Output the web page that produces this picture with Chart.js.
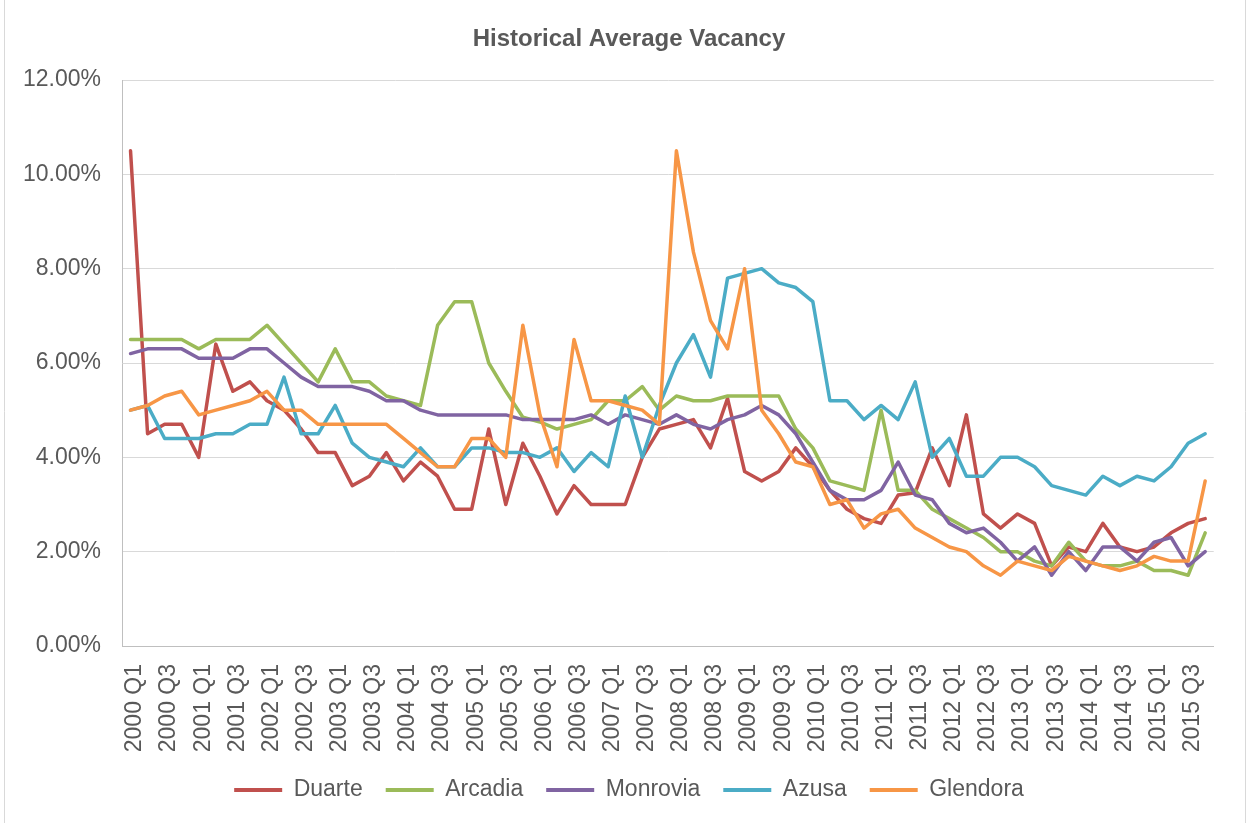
<!DOCTYPE html>
<html>
<head>
<meta charset="utf-8">
<script src="https://cdn.jsdelivr.net/npm/chart.js@4.4.1/dist/chart.umd.min.js"></script>
<style>
  html, body { margin: 0; padding: 0; background: #ffffff; }
  #wrap { position: relative; width: 1251px; height: 823px; }
  canvas { display: block; }
</style>
</head>
<body>
<div id="wrap"><canvas id="chart" width="1251" height="823"></canvas></div>
<script>
// ---- data (vacancy, %) ----
const years = [2000, 2001, 2002, 2003, 2004, 2005, 2006, 2007, 2008, 2009, 2010, 2011, 2012, 2013, 2014, 2015];
const quarters = ['Q1', 'Q2', 'Q3', 'Q4'];
const categories = years.flatMap(y => quarters.map(q => y + ' ' + q));

const seriesNames = ['Duarte', 'Arcadia', 'Monrovia', 'Azusa', 'Glendora'];

const duarte = [10.5, 4.5, 4.7, 4.7, 4.0, 6.4, 5.4, 5.6, 5.2, 5.0,
                4.6, 4.1, 4.1, 3.4, 3.6, 4.1, 3.5, 3.9, 3.6, 2.9,
                2.9, 4.6, 3.0, 4.3, 3.6, 2.8, 3.4, 3.0, 3.0, 3.0,
                4.0, 4.6, 4.7, 4.8, 4.2, 5.25, 3.7, 3.5, 3.7, 4.2,
                3.8, 3.3, 2.9, 2.7, 2.6, 3.2, 3.25, 4.2, 3.4, 4.9,
                2.8, 2.5, 2.8, 2.6, 1.7, 2.1, 2.0, 2.6, 2.1, 2.0,
                2.1, 2.4, 2.6, 2.7];

const arcadia = [6.5, 6.5, 6.5, 6.5, 6.3, 6.5, 6.5, 6.5, 6.8, 6.4,
                 6.0, 5.6, 6.3, 5.6, 5.6, 5.3, 5.2, 5.1, 6.8, 7.3,
                 7.3, 6.0, 5.4, 4.85, 4.75, 4.6, 4.7, 4.8, 5.2, 5.2,
                 5.5, 5.0, 5.3, 5.2, 5.2, 5.3, 5.3, 5.3, 5.3, 4.6,
                 4.2, 3.5, 3.4, 3.3, 5.0, 3.3, 3.3, 2.9, 2.7, 2.5,
                 2.3, 2.0, 2.0, 1.8, 1.7, 2.2, 1.8, 1.7, 1.7, 1.8,
                 1.6, 1.6, 1.5, 2.4];

const monrovia = [6.2, 6.3, 6.3, 6.3, 6.1, 6.1, 6.1, 6.3, 6.3, 6.0,
                  5.7, 5.5, 5.5, 5.5, 5.4, 5.2, 5.2, 5.0, 4.9, 4.9,
                  4.9, 4.9, 4.9, 4.8, 4.8, 4.8, 4.8, 4.9, 4.7, 4.9,
                  4.8, 4.7, 4.9, 4.7, 4.6, 4.8, 4.9, 5.1, 4.9, 4.5,
                  3.9, 3.3, 3.1, 3.1, 3.3, 3.9, 3.2, 3.1, 2.6, 2.4,
                  2.5, 2.2, 1.8, 2.1, 1.5, 2.0, 1.6, 2.1, 2.1, 1.8,
                  2.2, 2.3, 1.7, 2.0];

const azusa = [5.0, 5.1, 4.4, 4.4, 4.4, 4.5, 4.5, 4.7, 4.7, 5.7,
               4.5, 4.5, 5.1, 4.3, 4.0, 3.9, 3.8, 4.2, 3.8, 3.8,
               4.2, 4.2, 4.1, 4.1, 4.0, 4.2, 3.7, 4.1, 3.8, 5.3,
               4.0, 5.1, 6.0, 6.6, 5.7, 7.8, 7.9, 8.0, 7.7, 7.6,
               7.3, 5.2, 5.2, 4.8, 5.1, 4.8, 5.6, 4.0, 4.4, 3.6,
               3.6, 4.0, 4.0, 3.8, 3.4, 3.3, 3.2, 3.6, 3.4, 3.6,
               3.5, 3.8, 4.3, 4.5];

const glendora = [5.0, 5.1, 5.3, 5.4, 4.9, 5.0, 5.1, 5.2, 5.4, 5.0,
                  5.0, 4.7, 4.7, 4.7, 4.7, 4.7, 4.4, 4.1, 3.8, 3.8,
                  4.4, 4.4, 4.0, 6.8, 4.9, 3.8, 6.5, 5.2, 5.2, 5.1,
                  5.0, 4.7, 10.5, 8.35, 6.9, 6.3, 8.0, 5.0, 4.5, 3.9,
                  3.8, 3.0, 3.1, 2.5, 2.8, 2.9, 2.5, 2.3, 2.1, 2.0,
                  1.7, 1.5, 1.8, 1.7, 1.6, 1.9, 1.8, 1.7, 1.6, 1.7,
                  1.9, 1.8, 1.8, 3.5];

const yTicks = { min: 0, max: 12, step: 2 };
const seriesColors = ['#C0504D', '#9BBB59', '#8064A2', '#4BACC6', '#F79646'];

// ---- chart ----
const FONT = '"Liberation Sans", Arial, Helvetica, sans-serif';
const TEXT = '#595959';
const allSeries = [duarte, arcadia, monrovia, azusa, glendora];

const datasets = allSeries.map((vals, i) => ({
  label: seriesNames[i],
  data: vals,
  borderColor: seriesColors[i],
  backgroundColor: seriesColors[i],
  borderWidth: 3.5,
  pointRadius: 0,
  pointHoverRadius: 0,
  tension: 0,
  fill: false,
  order: allSeries.length - i,
  borderJoinStyle: 'round',
  borderCapStyle: 'round'
}));

const framePlugin = {
  id: 'frame',
  afterLayout(chart) {
    // let y tick labels extend left of the (narrow) scale box without clipping
    chart.scales.y.left = 0;
  },
  afterDraw(chart) {
    const ctx = chart.ctx;
    ctx.save();
    ctx.strokeStyle = '#D9D9D9';
    ctx.lineWidth = 1;
    ctx.beginPath();
    ctx.moveTo(4.5, 0); ctx.lineTo(4.5, 823);
    ctx.moveTo(1245.5, 0); ctx.lineTo(1245.5, 823);
    ctx.stroke();
    ctx.restore();
  }
};

new Chart(document.getElementById('chart'), {
  type: 'line',
  data: { labels: categories, datasets },
  plugins: [framePlugin],
  options: {
    responsive: false,
    animation: false,
    devicePixelRatio: 1,
    layout: { padding: { left: 34, right: 27, top: 0, bottom: 11.5 } },
    plugins: {
      title: {
        display: true,
        text: 'Historical Average Vacancy',
        color: TEXT,
        font: { family: FONT, size: 24, weight: 'bold' },
        padding: { top: 24.6, bottom: 26.6 }
      },
      legend: {
        display: true,
        position: 'bottom',
        labels: {
          boxWidth: 48,
          boxHeight: 4,
          padding: 23,
          color: TEXT,
          font: { family: FONT, size: 23 },
          sort: (a, b) => a.datasetIndex - b.datasetIndex,
          generateLabels(chart) {
            const items = Chart.defaults.plugins.legend.labels.generateLabels(chart);
            return items.map(it => Object.assign(it, { lineWidth: 0 }));
          }
        }
      },
      tooltip: { enabled: false }
    },
    scales: {
      x: {
        type: 'category',
        offset: true,
        grid: { display: false, drawTicks: false },
        border: { display: true, color: '#BFBFBF', width: 1 },
        ticks: {
          autoSkip: false,
          maxRotation: 90,
          minRotation: 90,
          padding: 18,
          labelOffset: 4.5,
          color: TEXT,
          font: { family: FONT, size: 23 },
          callback: (v, idx) => (idx % 2 === 0 ? categories[idx] : '')
        },
        afterFit(scale) { scale.height = 109.5; }
      },
      y: {
        min: yTicks.min,
        max: yTicks.max,
        grid: { color: '#D9D9D9', lineWidth: 1, drawTicks: false },
        border: { display: true, color: '#BFBFBF', width: 1 },
        ticks: {
          stepSize: yTicks.step,
          padding: 21,
          color: TEXT,
          font: { family: FONT, size: 23 },
          callback: v => v.toFixed(2) + '%'
        },
        afterFit(scale) { scale.width = 88; }
      }
    }
  }
});
</script>
</body>
</html>
